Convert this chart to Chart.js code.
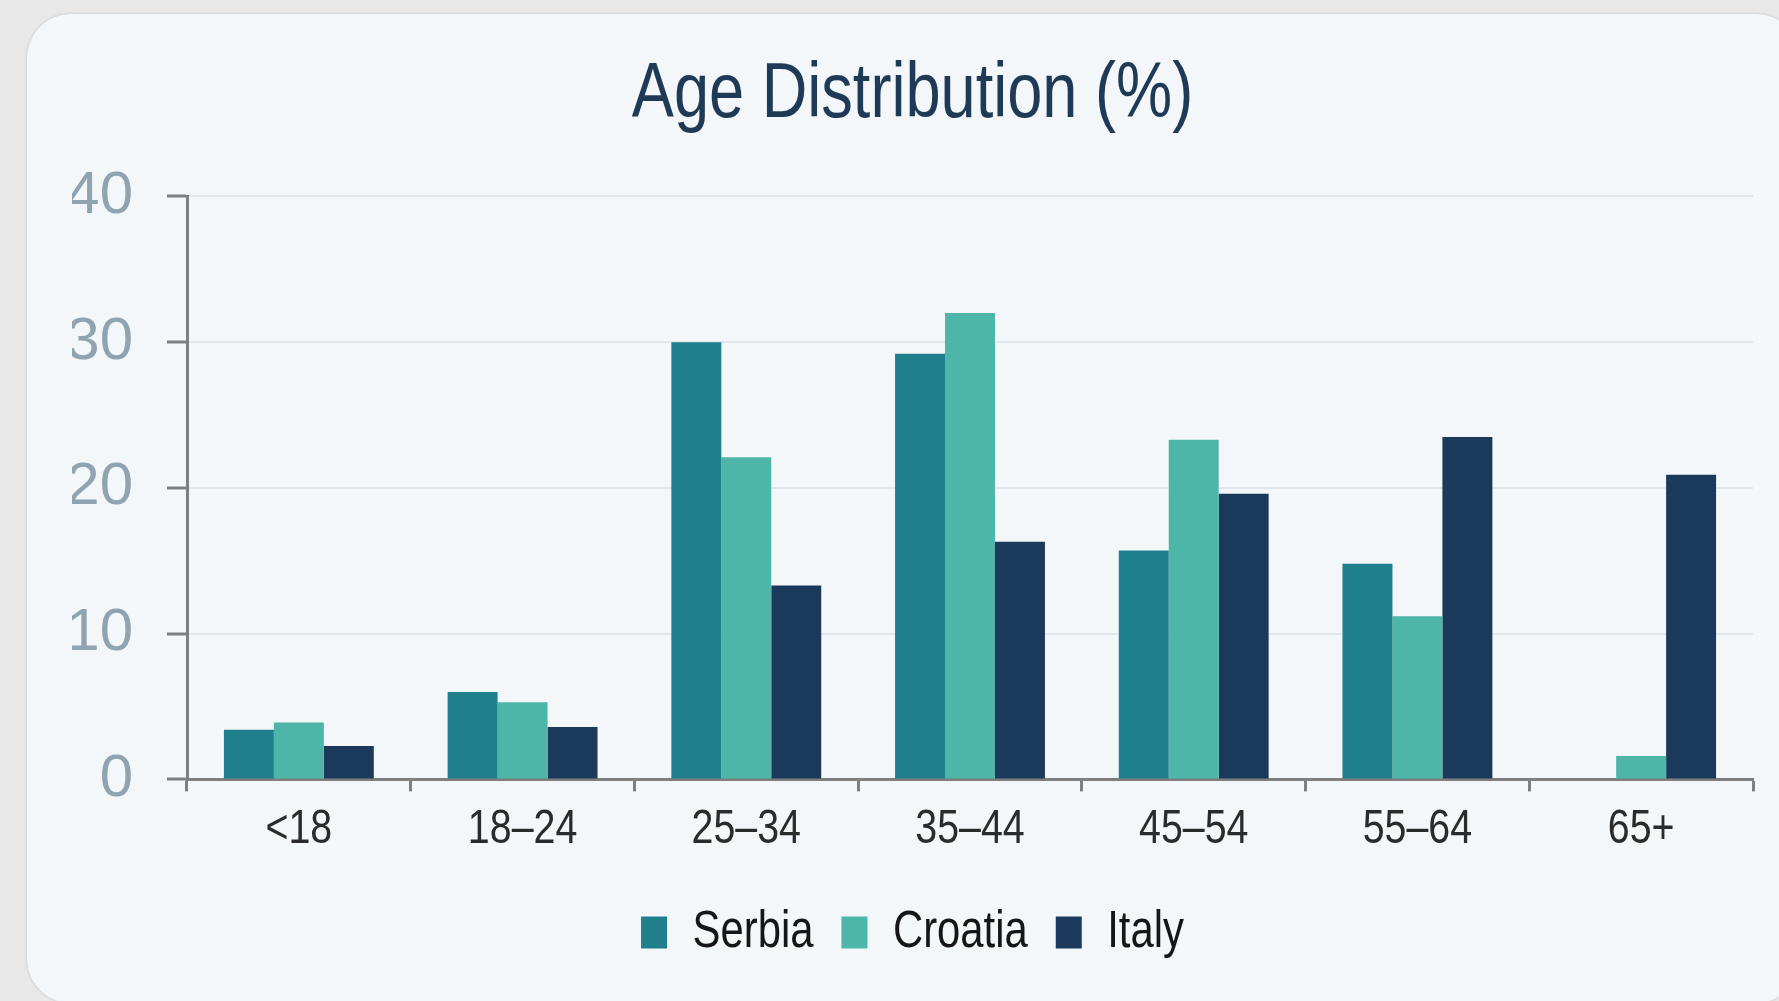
<!DOCTYPE html>
<html>
<head>
<meta charset="utf-8">
<title>Age Distribution (%)</title>
<script src="https://cdn.jsdelivr.net/npm/chart.js@4/dist/chart.umd.min.js"></script>
<style>
  html, body { margin: 0; padding: 0; }
  body {
    width: 1779px; height: 1001px; overflow: hidden;
    background: #e8e8e8; position: relative;
  }
  .card {
    position: absolute; left: 27px; top: 14px;
    width: 1773px; height: 989px;
    background: #f3f7fa; border-radius: 44px;
    box-shadow: 0 0 3px rgba(0,0,0,0.18);
  }
  #wrap { position: absolute; left: 27px; top: 14px; width: 1798px; height: 987px; }
</style>
</head>
<body>
<div class="card"></div>
<div id="wrap"><canvas id="chart"></canvas></div>
<script>
// Age groups and share of population per country (%)
const categories = ['<18', '18–24', '25–34', '35–44', '45–54', '55–64', '65+'];
const serbia  = [3.4, 6.0, 30.0, 29.2, 15.7, 14.8, null];
const croatia = [3.9, 5.3, 22.1, 32.0, 23.3, 11.2, 1.6];
const italy   = [2.3, 3.6, 13.3, 16.3, 19.6, 23.5, 20.9];
const yTicks  = [0, 10, 20, 30, 40];

const NARROW = "'Liberation Sans Narrow', 'Liberation Sans', Arial, sans-serif";
const REGULAR = "'Liberation Sans', Arial, sans-serif";
const AXIS_GREY = '#7f7f7f';

// When no narrow face is installed, emulate one by squeezing the regular
// face horizontally (both when measuring and when drawing).
(function condenseFallback() {
  const K = 0.82;
  const probe = document.createElement('canvas').getContext('2d');
  probe.font = "40px " + REGULAR;
  const wRegular = probe.measureText('Distribution').width;
  probe.font = "40px " + NARROW;
  const wNarrow = probe.measureText('Distribution').width;
  if (Math.abs(wRegular - wNarrow) > 0.5) return;
  const proto = CanvasRenderingContext2D.prototype;
  const measure = proto.measureText;
  const fill = proto.fillText;
  const isNarrow = ctx => ctx.font.indexOf('Narrow') !== -1;
  proto.measureText = function (text) {
    const m = measure.call(this, text);
    if (!isNarrow(this)) return m;
    return {
      width: m.width * K,
      actualBoundingBoxLeft: m.actualBoundingBoxLeft * K,
      actualBoundingBoxRight: m.actualBoundingBoxRight * K,
      actualBoundingBoxAscent: m.actualBoundingBoxAscent,
      actualBoundingBoxDescent: m.actualBoundingBoxDescent,
      fontBoundingBoxAscent: m.fontBoundingBoxAscent,
      fontBoundingBoxDescent: m.fontBoundingBoxDescent
    };
  };
  proto.fillText = function (text, x, y, maxWidth) {
    if (!isNarrow(this)) {
      return maxWidth === undefined ? fill.call(this, text, x, y) : fill.call(this, text, x, y, maxWidth);
    }
    let w = measure.call(this, text).width * K;
    if (maxWidth !== undefined) w = Math.min(w, maxWidth);
    return fill.call(this, text, x, y, w);
  };
})();

new Chart(document.getElementById('chart'), {
  type: 'bar',
  data: {
    labels: categories,
    datasets: [
      { label: 'Serbia',  data: serbia,  backgroundColor: '#1f7f8c' },
      { label: 'Croatia', data: croatia, backgroundColor: '#4db6a9' },
      { label: 'Italy',   data: italy,   backgroundColor: '#1b3a5b' }
    ]
  },
  options: {
    responsive: true,
    maintainAspectRatio: false,
    animation: false,
    datasets: { bar: { barPercentage: 1.0, categoryPercentage: 0.67 } },
    layout: { padding: { left: 45, right: 72, top: 0, bottom: 33 } },
    plugins: {
      title: {
        display: true,
        text: 'Age Distribution (%)',
        color: '#1f3a56',
        font: { family: NARROW, size: 77, weight: 'normal' },
        padding: { top: 36, bottom: 54 }
      },
      legend: {
        position: 'bottom',
        labels: {
          color: '#161616',
          font: { family: NARROW, size: 51 },
          boxWidth: 26,
          boxHeight: 32,
          padding: 28
        }
      },
      tooltip: { enabled: false }
    },
    scales: {
      x: {
        afterFit: s => { s.height += 10; },
        grid: {
          display: true,
          drawOnChartArea: false,
          tickLength: 12,
          tickColor: AXIS_GREY,
          tickWidth: 3
        },
        border: { color: AXIS_GREY, width: 3 },
        ticks: {
          color: '#2b2b2b',
          font: { family: NARROW, size: 48 },
          padding: 10,
          maxRotation: 0
        }
      },
      y: {
        min: 0,
        max: 40,
        afterBuildTicks: s => { s.ticks = yTicks.map(v => ({ value: v })); },
        afterFit: s => { s.width = 115; },
        grid: {
          color: '#e1e7ed',
          lineWidth: 2,
          tickLength: 20,
          tickColor: AXIS_GREY,
          tickWidth: 3
        },
        border: { color: AXIS_GREY, width: 3 },
        ticks: {
          color: '#8fa3b1',
          font: { family: REGULAR, size: 60 },
          padding: 34
        }
      }
    }
  }
});
</script>
</body>
</html>
